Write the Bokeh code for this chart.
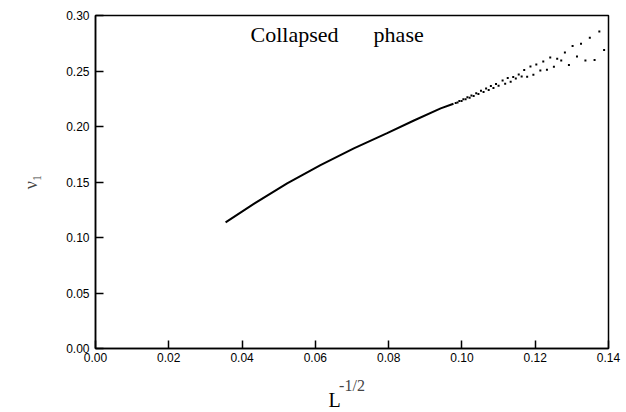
from bokeh.plotting import figure
from bokeh.models import Range1d, FixedTicker, NumeralTickFormatter, Label, Title
from bokeh.embed import file_html
from bokeh.resources import INLINE

# dense (solid-looking) part of the curve
line_x = [0.0355, 0.0432, 0.0523, 0.0614, 0.0705, 0.0796, 0.0869, 0.0942, 0.0977]
line_y = [0.1137, 0.1303, 0.1488, 0.1652, 0.1803, 0.1940, 0.2054, 0.2163, 0.2205]

# individual points where the data become sparse (two alternating branches)
dot_x = [0.0983, 0.0988, 0.0993, 0.0999, 0.1004, 0.1010, 0.1015, 0.1021, 0.1026, 0.1032,
         0.1039, 0.1045, 0.1052, 0.1059, 0.1066, 0.1073, 0.1079, 0.1086, 0.1093, 0.1100,
         0.1111, 0.1118, 0.1125, 0.1133, 0.1140, 0.1147, 0.1155, 0.1163, 0.1170, 0.1178,
         0.1187, 0.1195, 0.1203, 0.1214, 0.1222, 0.1232, 0.1241, 0.1251, 0.1260, 0.1271,
         0.1281, 0.1292, 0.1302, 0.1314, 0.1325, 0.1337, 0.1349, 0.1362, 0.1375, 0.1388]
dot_y = [0.2212, 0.2216, 0.2229, 0.2230, 0.2246, 0.2246, 0.2264, 0.2260, 0.2280, 0.2275,
         0.2300, 0.2293, 0.2321, 0.2311, 0.2342, 0.2329, 0.2364, 0.2347, 0.2384, 0.2366,
         0.2415, 0.2385, 0.2437, 0.2403, 0.2446, 0.2433, 0.2469, 0.2451, 0.2509, 0.2448,
         0.2541, 0.2466, 0.2559, 0.2505, 0.2586, 0.2511, 0.2622, 0.2538, 0.2610, 0.2595,
         0.2667, 0.2554, 0.2725, 0.2631, 0.2745, 0.2595, 0.2799, 0.2599, 0.2856, 0.2689]

x_ticks = [0.00, 0.02, 0.04, 0.06, 0.08, 0.10, 0.12, 0.14]
y_ticks = [0.00, 0.05, 0.10, 0.15, 0.20, 0.25, 0.30]

p = figure(width=626, height=412, output_backend="svg", toolbar_location=None,
           x_range=Range1d(0, 0.14), y_range=Range1d(0, 0.30),
           min_border_left=95, min_border_right=18, min_border_top=15, min_border_bottom=64)

p.background_fill_color = "white"
p.border_fill_color = "white"
p.outline_line_color = "black"
p.outline_line_width = 1.5
p.grid.visible = False

for ax, ticks in ((p.xaxis, x_ticks), (p.yaxis, y_ticks)):
    ax.ticker = FixedTicker(ticks=ticks)
    ax.formatter = NumeralTickFormatter(format="0.00")
    ax.major_tick_in = 8
    ax.major_tick_out = 0
    ax.minor_tick_line_color = None
    ax.axis_line_width = 1.5
    ax.major_tick_line_width = 1.5
    ax.axis_line_color = "black"
    ax.major_tick_line_color = "black"
    ax.major_label_text_font = "Liberation Sans"
    ax.major_label_text_font_size = "12px"
    ax.major_label_text_color = "black"

p.xaxis.major_label_standoff = 4
p.yaxis.major_label_standoff = 6

serif = "Liberation Serif"

p.yaxis.axis_label = "ν₁"
p.yaxis.axis_label_text_font = serif
p.yaxis.axis_label_text_font_style = "normal"
p.yaxis.axis_label_text_font_size = "18px"
p.yaxis.axis_label_standoff = 22

# x-axis label  L^{-1/2}: the exponent is the axis label, the L sits just below-left
p.xaxis.axis_label = "-1/2"
p.xaxis.axis_label_text_font = serif
p.xaxis.axis_label_text_font_style = "normal"
p.xaxis.axis_label_text_font_size = "16px"
p.xaxis.axis_label_standoff = 12

p.line(line_x, line_y, line_color="black", line_width=2)
p.scatter(dot_x, dot_y, marker="square", size=2, fill_color="black", line_color=None)

p.add_layout(Label(x=0.0423, y=0.2830, text="Collapsed", text_font=serif,
                   text_font_size="22px", text_color="black", text_baseline="alphabetic"))
p.add_layout(Label(x=0.0759, y=0.2830, text="phase", text_font=serif,
                   text_font_size="22px", text_color="black", text_baseline="alphabetic"))

p.add_layout(Title(text="L", align="left", offset=233, standoff=-20,
                   text_font=serif, text_font_size="20px", text_font_style="normal",
                   text_color="black"), "below")

open("out.html", "w").write(file_html(p, INLINE))
